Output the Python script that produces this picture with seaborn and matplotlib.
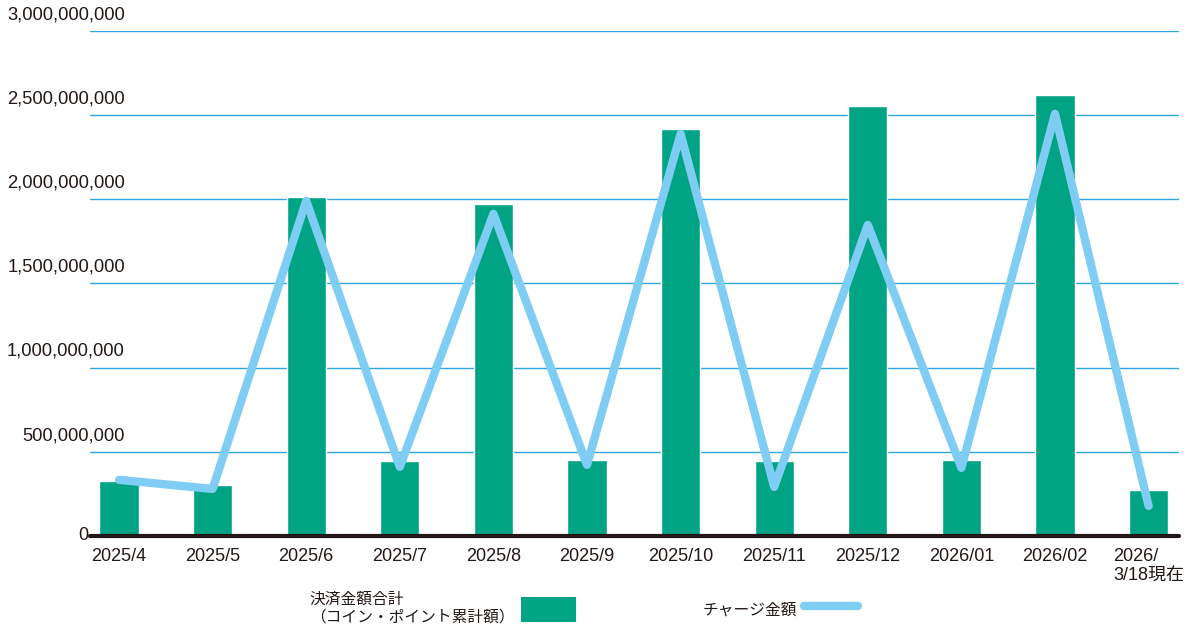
import numpy as np
import pandas as pd
import matplotlib
matplotlib.use("Agg")
import matplotlib.pyplot as plt
from matplotlib.patches import Patch
from matplotlib.lines import Line2D
import seaborn as sns

# ---- data ----
months = ["2025/4", "2025/5", "2025/6", "2025/7", "2025/8", "2025/9",
          "2025/10", "2025/11", "2025/12", "2026/01", "2026/02",
          "2026/\n3/18現在"]
payment_total = [327e6, 303e6, 2014e6, 446e6, 1972e6, 451e6,
                 2418e6, 446e6, 2554e6, 451e6, 2620e6, 273e6]
charge_amount = [333e6, 279e6, 1990e6, 410e6, 1913e6, 422e6,
                 2388e6, 291e6, 1847e6, 404e6, 2507e6, 178e6]
y_ticks = [0, 500e6, 1000e6, 1500e6, 2000e6, 2500e6, 3000e6]
bar_label = "決済金額合計\n（コイン・ポイント累計額）"
line_label = "チャージ金額"

BAR_COLOR = "#00A384"
LINE_COLOR = "#7FCDF2"
GRID_COLOR = "#2EA7E0"
TEXT_COLOR = "#231815"

sns.set_style("white")
plt.rcParams["font.family"] = ["Liberation Sans", "Noto Sans CJK JP", "DejaVu Sans"]

df = pd.DataFrame({"month": months, "payment": payment_total,
                   "charge": charge_amount})

fig = plt.figure(figsize=(11.92, 6.29), dpi=100)
ax = fig.add_axes([0.0755, 0.148, 0.914, 0.803])

# gridlines (except zero, which is the black baseline)
for v in y_ticks[1:]:
    ax.axhline(v, color=GRID_COLOR, lw=1.0, zorder=0)

sns.barplot(data=df, x="month", y="payment", color=BAR_COLOR,
            saturation=1, width=0.42, ax=ax, zorder=2)
sns.lineplot(x=np.arange(len(months)), y=df["charge"], sort=False,
             color=LINE_COLOR, lw=6, ax=ax, zorder=3,
             solid_capstyle="round", solid_joinstyle="round")

ax.set_xlim(-0.31, 11.33)
ax.set_ylim(0, 3000e6)
ax.axhline(0, color=TEXT_COLOR, lw=3, zorder=4, clip_on=False)

for s in ax.spines.values():
    s.set_visible(False)

ax.set_yticks(y_ticks)
ax.set_yticklabels([])
ax.tick_params(axis="y", length=0)
for v in y_ticks:
    if v == 0:
        ax.text(-0.006, v, "0", transform=ax.get_yaxis_transform(),
                ha="center", va="center", fontsize=13, color=TEXT_COLOR)
    else:
        ax.text(0.032, v + 45e6, f"{int(v):,}", transform=ax.get_yaxis_transform(),
                ha="right", va="bottom", fontsize=13.2, color=TEXT_COLOR)

ax.set_xlabel("")
ax.set_ylabel("")
ax.tick_params(axis="x", length=0, pad=9, labelsize=13, colors=TEXT_COLOR)
for lbl in ax.get_xticklabels():
    lbl.set_multialignment("left")

handles = [Patch(facecolor=BAR_COLOR, edgecolor="none"),
           Line2D([0], [0], color=LINE_COLOR, lw=6, solid_capstyle="round")]
fig.legend(handles, [bar_label, line_label], loc="center",
           bbox_to_anchor=(0.49, 0.033), ncol=2, frameon=False,
           markerfirst=False, fontsize=11.3, handlelength=3.45,
           handleheight=2.05, handletextpad=0.45, columnspacing=8.1,
           labelcolor=TEXT_COLOR)

fig.savefig("out.png", dpi=100)
